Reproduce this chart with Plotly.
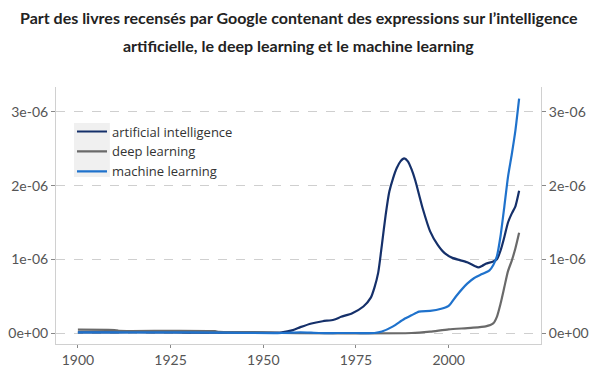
import plotly.graph_objects as go

# ---- data (values in units of 1e-6) ----
ai_years = [1900, 1910, 1920, 1930, 1940, 1950, 1955, 1958, 1960, 1963, 1966, 1969, 1971, 1974,
            1977, 1979, 1980, 1981, 1982, 1983, 1984, 1985, 1986, 1987, 1988, 1989, 1990, 1991,
            1992, 1993, 1995, 1997, 1999, 2001, 2003, 2005, 2007, 2008, 2009, 2010, 2012, 2013,
            2014, 2015, 2016, 2017, 2018, 2019]
ai_vals = [0.01, 0.01, 0.01, 0.005, 0.005, 0.005, 0.01, 0.04, 0.08, 0.13, 0.16, 0.18, 0.22, 0.27,
           0.36, 0.48, 0.62, 0.82, 1.2, 1.6, 1.92, 2.1, 2.24, 2.33, 2.37, 2.33, 2.22, 2.07,
           1.88, 1.69, 1.38, 1.20, 1.08, 1.02, 0.99, 0.96, 0.91, 0.89, 0.91, 0.94, 0.97, 1.0,
           1.12, 1.3, 1.5, 1.62, 1.72, 1.93]

dl_years = [1900, 1910, 1911, 1925, 1937, 1938, 1950, 1955, 1990, 1995, 2000, 2006, 2010, 2012,
            2013, 2014, 2015, 2016, 2017, 2018, 2019]
dl_vals = [0.045, 0.04, 0.03, 0.03, 0.025, 0.015, 0.01, 0.0, 0.0, 0.02, 0.05, 0.07, 0.09, 0.13,
           0.22, 0.4, 0.62, 0.84, 0.98, 1.15, 1.36]

ml_years = [1900, 1920, 1940, 1955, 1960, 1965, 1970, 1975, 1980, 1982, 1985, 1988, 1990, 1992,
            1995, 1998, 2000, 2002, 2005, 2007, 2009, 2011, 2012, 2013, 2014, 2015, 2016, 2017,
            2018, 2019]
ml_vals = [0.01, 0.01, 0.005, 0.0, 0.01, 0.0, 0.0, 0.0, 0.0, 0.02, 0.09, 0.19, 0.24, 0.29,
           0.30, 0.33, 0.37, 0.50, 0.67, 0.75, 0.80, 0.85, 0.92, 1.04, 1.32, 1.71, 2.12, 2.42,
           2.75, 3.18]

series_names = ["artificial intelligence", "deep learning", "machine learning"]
series_colors = ["#15306a", "#6a6a6a", "#1f72cc"]

y_tickvals = [0, 1e-6, 2e-6, 3e-6]
y_ticktext = ["0e+00", "1e-06", "2e-06", "3e-06"]
x_tickvals = [1900, 1925, 1950, 1975, 2000]

title_lines = ["Part des livres recensés par Google contenant des expressions sur l\u2019intelligence",
               "artificielle, le deep learning et le machine learning"]

SCALE = 1e-6

fig = go.Figure()
for name, yrs, vals, col in zip(series_names, [ai_years, dl_years, ml_years],
                                [ai_vals, dl_vals, ml_vals], series_colors):
    fig.add_trace(go.Scatter(
        x=yrs, y=[v * SCALE for v in vals], mode="lines", name=name,
        line=dict(color=col, width=2.2, shape="spline", smoothing=0.6),
    ))

# invisible trace to bring the right-hand axis to life
fig.add_trace(go.Scatter(x=ml_years, y=[v * SCALE for v in ml_vals], yaxis="y2",
                         mode="lines", line=dict(width=0), showlegend=False,
                         hoverinfo="skip", opacity=0))

tick_font = dict(family="Lato, sans-serif", size=14, color="#555555")
yr = [-0.149e-6, 3.339e-6]

fig.update_layout(
    width=595, height=376,
    margin=dict(l=56, r=54, t=87, b=32, autoexpand=False),
    paper_bgcolor="white", plot_bgcolor="white",
    showlegend=True,
    legend=dict(x=0.033, y=0.885, xanchor="left", yanchor="top",
                bgcolor="rgba(0,0,0,0)", font=dict(family="Open Sans, sans-serif", size=13, color="#333333"),
                tracegroupgap=0, itemwidth=30),
    xaxis=dict(range=[1894.1, 2024.9], tickvals=x_tickvals, showgrid=False, zeroline=False,
               showline=True, linecolor="#d0d0d0", linewidth=1,
               ticks="outside", ticklen=3, tickcolor="#888888", tickfont=tick_font),
    yaxis=dict(range=yr, tickvals=y_tickvals, ticktext=y_ticktext, showgrid=True,
               gridcolor="#cfcfcf", griddash="dash", gridwidth=1, zeroline=False,
               showline=True, linecolor="#d0d0d0", linewidth=1,
               ticks="outside", ticklen=4, tickcolor="#888888", tickfont=tick_font),
    yaxis2=dict(range=yr, tickvals=y_tickvals, ticktext=y_ticktext, overlaying="y", side="right",
                showgrid=False, zeroline=False, showline=True, linecolor="#d0d0d0", linewidth=1,
                ticks="outside", ticklen=4, tickcolor="#888888", tickfont=tick_font),
)

# light background behind legend keys
fig.add_shape(type="rect", xref="paper", yref="paper", x0=0.037, x1=0.111, y0=0.65, y1=0.86,
              fillcolor="#f0f0f0", line=dict(width=0), layer="below")

for txt, yp in zip(title_lines, [1.2685, 1.1634]):
    fig.add_annotation(text="<b>" + txt + "</b>", xref="paper", yref="paper",
                       x=0.5, y=yp, xanchor="center", yanchor="middle", showarrow=False,
                       font=dict(family="Lato, sans-serif", size=16, color="#222222"))

fig.write_html("out.html", config={"displayModeBar": False},
               post_script="document.body.style.margin='0';document.body.style.overflow='hidden';")
